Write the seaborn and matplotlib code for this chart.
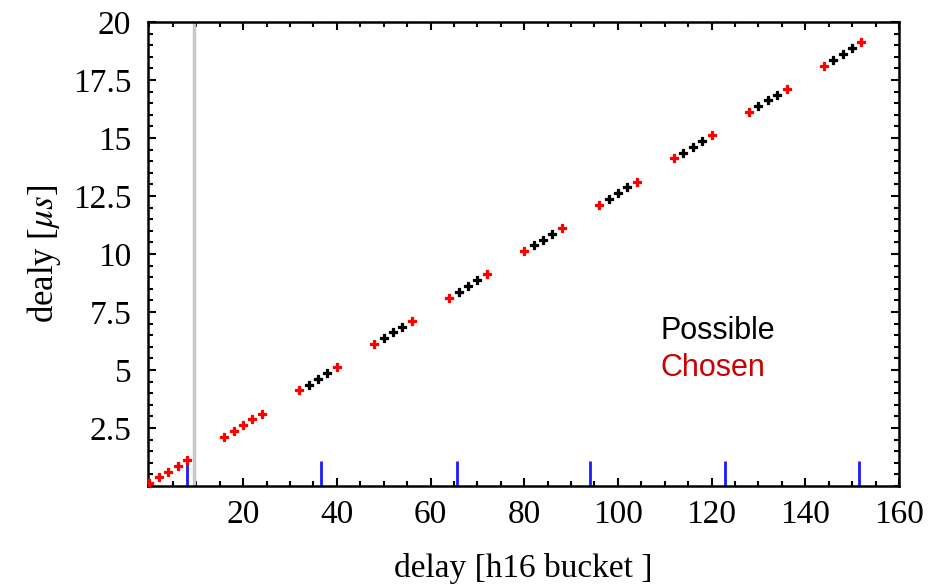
import matplotlib
matplotlib.use("Agg")
import matplotlib.pyplot as plt
import seaborn as sns
import pandas as pd
from matplotlib.ticker import MultipleLocator, FixedLocator

# ---- data ----
possible_x = [34, 36, 38, 50, 52, 54, 66, 68, 70, 82, 84, 86,
              98, 100, 102, 114, 116, 118, 130, 132, 134, 146, 148, 150]
possible_y = [4.375, 4.625, 4.875, 6.375, 6.625, 6.875, 8.375, 8.625, 8.875,
              10.375, 10.625, 10.875, 12.375, 12.625, 12.875, 14.375, 14.625, 14.875,
              16.375, 16.625, 16.875, 18.375, 18.625, 18.875]
chosen_x = [0, 2, 4, 6, 8, 16, 18, 20, 22, 24, 32, 40, 48, 56, 64, 72,
            80, 88, 96, 104, 112, 120, 128, 136, 144, 152]
chosen_y = [0.125, 0.375, 0.625, 0.875, 1.125, 2.125, 2.375, 2.625, 2.875, 3.125,
            4.125, 5.125, 6.125, 7.125, 8.125, 9.125, 10.125, 11.125, 12.125, 13.125,
            14.125, 15.125, 16.125, 17.125, 18.125, 19.125]
blue_x = [8, 36.7, 65.6, 94.0, 122.8, 151.5]
blue_h = [1.1, 1.1, 1.1, 1.1, 1.1, 1.1]
gray_x = 9.5
x_ticks = [20, 40, 60, 80, 100, 120, 140, 160]
y_ticks = [2.5, 5, 7.5, 10, 12.5, 15, 17.5, 20]
y_tick_labels = ["2.5", "5", "7.5", "10", "12.5", "15", "17.5", "20"]

sns.set_style("white")
plt.rcParams['font.family'] = ['Liberation Serif', 'DejaVu Serif']
plt.rcParams['mathtext.fontset'] = 'stix'
plt.rcParams['text.color'] = 'black'
plt.rcParams['axes.labelcolor'] = 'black'
plt.rcParams['xtick.color'] = 'black'
plt.rcParams['ytick.color'] = 'black'

fig = plt.figure(figsize=(9.31, 5.87), dpi=100)
ax = fig.add_axes([0.159, 0.172, 0.8066, 0.7905])

df_p = pd.DataFrame({"x": possible_x, "y": possible_y})
df_c = pd.DataFrame({"x": chosen_x, "y": chosen_y})

ax.axvline(gray_x, color="#c8c8c8", lw=2.5, zorder=1)
ax.vlines(blue_x, 0, blue_h, color="#1a1aff", lw=2, zorder=2)

sns.scatterplot(data=df_p, x="x", y="y", ax=ax, color="black", marker="P",
                s=34, linewidth=0.9, edgecolor="black", zorder=3, legend=False)
sns.scatterplot(data=df_c, x="x", y="y", ax=ax, color="#ff0000", marker="P",
                s=34, linewidth=0.9, edgecolor="#ff0000", zorder=3, legend=False)

ax.set_xlim(-0.3, 160)
ax.set_ylim(0, 20)

ax.xaxis.set_major_locator(FixedLocator(x_ticks))
ax.xaxis.set_minor_locator(MultipleLocator(5))
ax.yaxis.set_major_locator(FixedLocator(y_ticks))
ax.yaxis.set_minor_locator(MultipleLocator(0.5))
ax.set_yticklabels(y_tick_labels)
ax.tick_params(which="both", direction="in", top=True, right=True,
               bottom=True, left=True, width=1.5, color="black", labelcolor="black")
ax.tick_params(which="major", length=6, labelsize=24)
ax.tick_params(axis="x", which="major", pad=10)
ax.tick_params(axis="y", which="major", pad=12)
ax.tick_params(which="minor", length=3.5)
for s in ax.spines.values():
    s.set_visible(True)
    s.set_color("black")
    s.set_linewidth(1.8)

ax.set_xlabel("delay [h16 bucket ]", fontsize=24, labelpad=16, color="black")
ax.set_ylabel(r"dealy [$\mathit{\mu s}$]", fontsize=25, labelpad=7, color="black")

ax.text(109, 6.7, "Possible", color="black", fontsize=22, ha="left", va="center",
        family=["Liberation Sans", "DejaVu Sans"])
ax.text(109, 5.1, "Chosen", color="#cc0000", fontsize=22, ha="left", va="center",
        family=["Liberation Sans", "DejaVu Sans"])

fig.savefig("out.png", dpi=100)
